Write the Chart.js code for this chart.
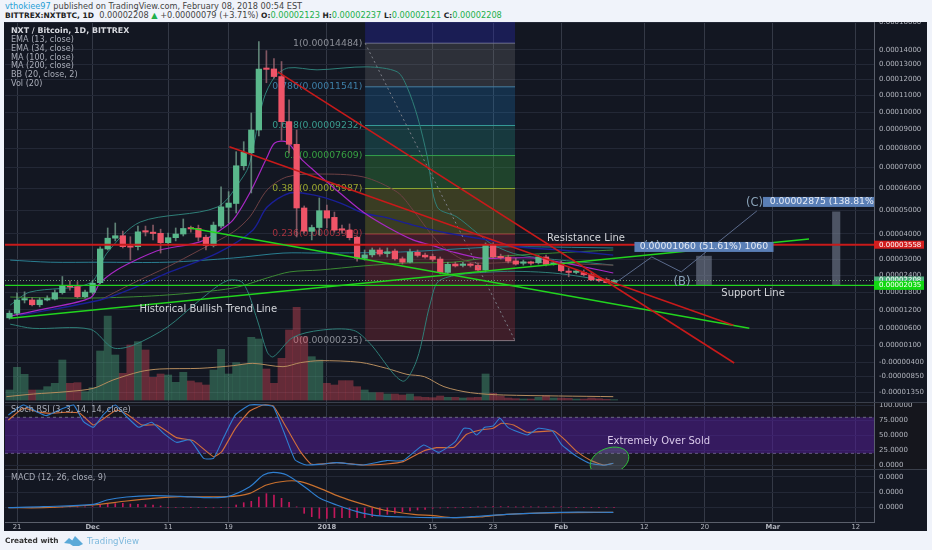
<!DOCTYPE html>
<html lang="en">
<head>
<meta charset="UTF-8">
<title>NXT / Bitcoin, 1D, BITTREX</title>
<script src="https://cdn.jsdelivr.net/npm/chart.js@4"></script>
<style>
    html, body { margin: 0; padding: 0; background: #f0f3fa; }
    body { width: 932px; height: 550px; position: relative; overflow: hidden; font-family: "DejaVu Sans", sans-serif; }
    #frame { position: absolute; left: 4px; top: 22px; width: 923px; height: 509px; background: #131722; }
    canvas { position: absolute; left: 5px; }
    #stochChart { background: #15161d; }
    .rule { position: absolute; left: 5px; width: 922px; height: 1px; background: #3a3f4b; }
    .txt { position: absolute; white-space: nowrap; }
    .top { font-size: 8.2px; line-height: 10px; color: #444; left: 5px; }
    .top b { color: #222; font-weight: 600; font-size: 7.5px; }
    .top i { font-style: normal; color: #21b04b; }
    .leg { font-size: 8.1px; line-height: 9px; left: 11px; color: #a9adb8; }
</style>
</head>
<body>
<div class="txt top" style="top:1px"><span style="color:#2a9fd6">vthokiee97</span> published on TradingView.com, February 08, 2018 00:54 EST</div>
<div class="txt top" style="top:10px"><b>BITTREX:NXTBTC, 1D</b>&nbsp; 0.00002208 <i>▲</i> +0.00000079 (+3.71%) <b>O:</b><i>0.00002123</i> <b>H:</b><i>0.00002237</i> <b>L:</b><i>0.00002121</i> <b>C:</b><i>0.00002208</i></div>
<div id="frame"></div>
<canvas id="priceChart" width="922" height="380" style="top:22px"></canvas>
<canvas id="stochChart" width="922" height="67" style="top:402px"></canvas>
<canvas id="macdChart" width="922" height="62" style="top:469px"></canvas>
<div class="rule" style="top:402px"></div>
<div class="rule" style="top:469px"></div>
<div class="txt leg" style="top:26px;color:#d8dae0;font-weight:600;font-size:7.9px">NXT / Bitcoin, 1D, BITTREX</div>
<div class="txt leg" style="top:35px">EMA (13, close)</div>
<div class="txt leg" style="top:44px">EMA (34, close)</div>
<div class="txt leg" style="top:52.5px">MA (100, close)</div>
<div class="txt leg" style="top:61px">MA (200, close)</div>
<div class="txt leg" style="top:70px">BB (20, close, 2)</div>
<div class="txt leg" style="top:79px">Vol (20)</div>
<div class="txt leg" style="top:405px">Stoch RSI (3, 3, 14, 14, close)</div>
<div class="txt leg" style="top:473px">MACD (12, 26, close, 9)</div>
<div class="txt" style="left:5px;top:536px;font-size:7.4px;line-height:10px;color:#333;font-weight:600">Created with</div>
<svg class="txt" style="left:64px;top:535px" width="20" height="12" viewBox="0 0 20 12"><path d="M0 8 L5 3 L9 6 L7 9 Z M6 9 L11 1 L15 5 L19 9 L15 11 L9 11 Z" fill="#5aa9d8"/></svg>
<div class="txt" style="left:87px;top:536px;font-size:8.6px;line-height:10px;color:#7db9dd">TradingView</div>

<script>
// everything below is read off the picture
// prices are in units of 0.00001 BTC, days are counted from 21 Nov
const dayTicks = [0, 10, 20, 28, 41, 55, 63, 72, 83, 91, 100, 111];
const dayLabels = ['21', 'Dec', '11', '19', '2018', '15', '23', 'Feb', '12', '20', 'Mar', '12'];
const boldDays = ['Dec', '2018', 'Feb', 'Mar'];
const priceTicks = [16, 14, 13, 12, 11, 10, 9, 8, 7, 6, 5, 4, 3, 2.4, 1.8, 1.2, 0.6, 0.1, -0.4, -0.85, -1.35];
const stochTicks = [100, 75, 50, 25, 0];
const macdTicks = [91, 44, 0];

const firstDay = -1;
const opens = [0.94,1.09,1.53,1.53,1.37,1.53,1.56,1.78,2.02,1.99,1.64,1.79,2.13,3.39,3.82,3.92,3.51,3.48,4.08,4.05,4.02,3.64,3.84,3.99,4.22,4.22,3.86,3.52,4.32,5.13,5.30,7.09,7.76,8.98,12.69,12.7,12.2,9.45,8.2,5.1,4.1,4.26,4.98,4.69,4.18,4.15,3.86,3.03,3.16,3.35,3.21,3.31,3.01,2.88,3.26,3.15,3.10,3.0,2.50,2.81,2.76,2.78,2.76,2.59,3.55,3.10,3.07,2.93,2.84,2.87,2.86,3.08,2.80,2.84,2.55,2.50,2.50,2.42,2.23,2.24,2.123];
const closes = [1.09,1.53,1.55,1.37,1.53,1.56,1.78,2.02,1.98,1.64,1.80,2.11,3.39,3.82,3.92,3.48,3.46,4.08,4.07,4.01,3.64,3.84,3.99,4.22,4.20,3.86,3.52,4.36,5.15,5.32,7.09,7.78,8.98,12.69,12.67,12.2,9.45,8.2,5.1,4.11,4.26,4.98,4.66,4.15,4.15,3.84,3.03,3.16,3.35,3.19,3.28,3.01,2.88,3.27,3.14,3.08,2.99,2.50,2.80,2.74,2.78,2.76,2.59,3.55,3.08,3.05,2.92,2.81,2.87,2.84,3.08,2.80,2.84,2.56,2.50,2.53,2.42,2.23,2.20,2.13,2.208];
const highs = [1.17,1.77,1.81,1.60,1.60,1.67,1.87,2.35,2.20,2.17,1.87,2.20,3.47,4.24,4.45,4.11,3.88,4.32,4.32,4.36,4.19,4.03,4.24,4.62,4.32,4.36,3.95,4.49,6.07,5.84,7.81,8.34,9.95,14.59,13.95,13.4,13.2,10.73,8.98,5.19,4.36,5.55,5.23,4.92,4.36,4.41,3.91,3.35,3.43,3.43,3.43,3.39,3.08,3.39,3.35,3.23,3.19,3.08,2.88,2.88,2.88,2.85,2.85,3.63,3.63,3.19,3.15,3.03,2.96,2.92,3.15,3.15,2.92,2.92,2.66,2.59,2.59,2.52,2.30,2.30,2.237];
const lows = [0.90,1.03,1.43,1.33,1.30,1.50,1.53,1.73,1.87,1.60,1.60,1.73,2.09,3.35,3.71,3.43,2.96,3.35,3.91,3.75,3.23,3.55,3.71,3.91,4.07,3.71,3.35,3.47,4.24,4.45,4.88,6.88,5.78,8.65,11.8,12.1,8.43,7.74,3.87,4.03,3.75,3.95,4.24,4.07,4.03,3.75,2.92,2.96,3.08,3.11,3.08,2.96,2.81,2.85,3.08,3.03,2.92,2.45,2.45,2.70,2.70,2.70,2.55,2.52,3.03,3.0,2.85,2.77,2.77,2.77,2.81,2.74,2.77,2.52,2.34,2.45,2.37,2.20,2.16,2.12,2.121];
const volumes = [30,98,77,30,30,40,50,120,50,52,25,37,147,252,135,80,165,175,150,68,78,75,53,83,57,52,45,90,152,78,112,108,188,183,93,50,125,210,278,190,130,120,50,45,58,58,40,30,22,22,18,18,15,18,10,8,7,12,8,8,6,7,8,78,20,12,6,4,3,3,8,13,6,6,5,3,3,6,4,2,1];

const volMaDays = [-1.4,2.2,6.6,10.1,12.7,16.3,18.9,24.2,28.6,31.2,35.2,37.5,40.1,45.4,48.9,51.6,53.9,56.5,60,64.4,78.9];
const volMa = [10,18,25,35,60,85,93,95,103,110,100,112,118,113,95,77,70,40,22,15,10];

const ema13Days = [-0.9,3,9.7,11,13.2,16.3,18.9,24.2,26.9,28.6,30.8,33.1,34.1,35.7,37.5,39.2,41.8,45.8,49,52.4,54.7,57.7,61.3,64.9,68.3,71.9,75.8,78.9];
const ema13 = [1.0,1.2,1.6,2.12,2.59,3.04,3.35,3.67,4.15,4.58,5.78,7.53,8.27,8.32,7.48,6.88,6.06,4.92,4.28,3.75,3.55,3.27,3.04,3.04,3.04,2.88,2.66,2.48];
const ema34Days = [11,15.4,19.9,24.2,28.6,30.8,33.1,35.7,39.7,45.8,50.3,52.4,55.1,56.9,60,66.6,78.9];
const ema34 = [1.53,2.12,2.7,3.35,4.07,4.71,5.92,6.54,6.68,6.54,5.82,5.01,3.87,3.35,2.88,2.88,2.77];
const ma100Days = [0.4,11,15.4,19.9,26.5,31.2,33.1,36.1,39.2,42.8,45.8,49,52.4,56.9,62.2,66.6,71.9,78.9];
const ma100 = [1.03,1.53,1.94,2.48,3.23,4.15,5.14,5.78,5.69,5.32,4.88,4.67,4.36,4.03,3.75,3.47,3.35,3.15];
const ma200Days = [-0.9,4.4,11,19.9,28.6,35.2,40.1,50.7,63.9,78.9];
const ma200 = [2.96,2.88,2.88,2.88,3.04,3.23,3.23,3.27,3.47,3.43];
const bbBasisDays = [-0.9,4.4,11,19.9,28.6,33.1,36.1,40.1,45.8,51.6,57.7,63,70.9,78.9];
const bbBasis = [1.63,1.6,1.6,1.7,1.94,2.3,2.52,2.59,2.74,2.85,2.88,3.08,3.23,3.35];
const bbUpperDays = [-0.9,1.7,9.7,11.9,16.3,26.5,29.9,30.8,32.6,34.1,35.9,39.7,46.3,50.3,51.6,53,54.3,55.6,58.2,60.9,63,66.6,78.9];
const bbUpper = [1.36,1.8,2.12,3.23,4.49,5.14,6.54,7.23,10.73,12.18,12.77,12.64,12.84,12.51,11.54,9.72,7.53,5.14,4.71,4.03,3.55,3.15,2.77];
const bbLowerDays = [-0.9,2.1,9.7,12.7,15.4,19.9,24.2,27.8,29.9,31.8,33.1,33.9,36.5,40.1,44.5,46.7,51,52.9,54.7,56,63,70.9,78.9];
const bbLower = [0.74,0.61,0.58,0.02,0.1,0.65,1.53,2.2,2.12,0.87,-0.1,-0.24,0.33,0.55,0.55,0.15,-1.0,-0.33,1.43,2.23,2.52,2.48,2.16];

// fibonacci retracement
const fibDays = [46.06, 65.9];
const fibLevels = [16.05, 14.484, 11.541, 9.232, 7.609, 5.987, 3.989, 0.235];
const fibText = ['', '1(0.00014484)', '0.786(0.00011541)', '0.618(0.00009232)', '0.5(0.00007609)', '0.382(0.00005987)', '0.236(0.00003989)', '0(0.00000235)'];
const fibLine = ['rgba(0,0,0,0)', '#7c7f88', '#3d7ea6', '#3a9c8f', '#37a042', '#9aa52f', '#a5333f', '#7c7f88'];
const fibFill = ['rgba(44,44,190,.32)', 'rgba(140,140,140,.22)', 'rgba(33,140,220,.22)', 'rgba(38,166,154,.24)', 'rgba(60,170,70,.3)', 'rgba(150,150,40,.3)', 'rgba(190,50,65,.25)', 'rgba(0,0,0,0)'];

// drawn lines: each is two or more [day, price] ends
const edgeDays = [-1.59, 113.4];
const resistanceLevel = 3.558;
const supportLevel = 2.035;
const lastPrice = 2.208;
const redLineA = [[34.5, 12.51], [94.9, -0.42]];
const redLineB = [[28.1, 8.07], [94.8, 0.71]];
const greenLineA = [[22.9, 4.24], [96.9, 0.61]];
const greenLineB = [[-0.9, 0.93], [104.8, 3.79]];
const fibDiagonal = [[46.06, 14.484], [65.9, 0.235]];
const waveLine = [[79, 2.09], [84, 3.08], [87.9, 2.52], [97.9, 4.97]];
const targetDays = [90.9, 108.4];
const targetTops = [3.11, 4.93];

const macdDays = [-1.15,3.5,10.1,11.9,14.5,18,21.6,25.1,27.8,30.8,32.6,33.9,35.7,38.3,40.1,42.3,45,47.6,51.6,55.1,57.7,60.8,64.8,71.9,78.9];
const macdLine = [-1,2,9,22,31,35,33,29,32,62,97,105,97,57,27,7,-13,-25,-29,-31,-31,-27,-21,-15,-15];
const signalDays = [-1.15,3.5,10.1,14.5,18,21.6,27.8,30.8,33,35.7,37.5,40.1,42.7,45.4,48.5,52.5,55.1,57.7,61.3,64.8,71.9,78.9];
const signalLine = [-1,-1,7,19,27,32,32,42,67,79,77,57,32,12,-8,-21,-25,-31,-29,-21,-16,-15];
const macdHist = [0,0,0,0,0,0,0,1,3,1,1,2,7,9,11,12,10,9,8,7,4,0,0,0,0,0,0,-1,0,0,7,14,18,31,41,37,27,15,1,-18,-28,-33,-33,-31,-31,-31,-31,-31,-28,-23,-21,-18,-13,-11,-8,-6,-3,-2,-1,-1,0,0,1,1,2,2,2,1,1,1,1,1,1,1,0,0,0,0,0,0,0];

const stochKDays = [-1.15,0.84,2.6,3.9,6.1,7.5,8.8,10.1,11.4,13,14.5,16.1,17.8,19.4,21.1,22.9,24.7,26,27.3,28.9,30.8,32.6,33.9,35.3,36.8,38.3,40.1,42.3,45.8,48.9,51.1,53.8,55.8,58,59.1,60,60.8,61.9,63,63.9,65,67.5,69,70.8,72.1,74.1,75.8,77.6,78.9];
const stochK = [83.9,100.5,89.4,82.8,95,100.5,72.8,63.3,83.9,100.5,81.1,63.3,71.6,53.3,38.3,42.2,11.6,11.6,45,83.9,100.5,100.5,97.8,56,8.9,0.5,1.6,4.4,0.5,7.8,7.8,33.9,21.6,39.4,61.6,60.5,50.5,63.3,65.5,78.3,62.8,50.5,61.6,57.8,33.9,14.4,3.3,0,3.3];
const stochDDays = [-1.15,0.84,2.6,4.4,6.6,8.3,10.1,11.4,13.2,14.7,16.5,18.5,21.1,23.3,26,27.1,28.9,30.8,32.6,33.9,35.7,37.5,39,42.3,45.8,48.9,51.1,53.8,55.5,57.8,59.5,61.3,63,64.1,65.7,67.5,71,72.3,74.1,75.8,77.6,78.9];
const stochD = [75.5,95,89.4,86.6,88.3,86.6,67.2,77.2,92.2,83.9,67.2,67.2,46.1,41.1,14.4,22.7,61.6,90.5,100.5,98.9,61.6,22.7,1.6,4.4,0.5,2.2,6.1,23.9,29.4,30,51.6,58.9,61.6,70,67.2,55,57.2,45,22.7,8.9,0.5,3.3];
const stochBand = [80, 20];

const FONT = '"DejaVu Sans", sans-serif';
const LABEL = '#b2b5be';
const GRID_H = '#232836';
const GRID_V = '#343946';
const UP = '#5ab88c';
const DOWN = '#ef5468';

// the price axis is a shifted log, flatter under -0.4
const squash = v => v >= -0.4 ? Math.log(v + 10) : 2.262 + (v + 0.4) * 0.0915;
const unsquash = s => s >= 2.262 ? Math.exp(s) - 10 : (s - 2.262) / 0.0915 - 0.4;
class ShiftedLogScale extends Chart.LinearScale {
    getPixelForValue(v) {
        const a = squash(this.min), b = squash(this.max);
        return this.getPixelForDecimal((squash(v) - a) / (b - a));
    }
    getValueForPixel(p) {
        const a = squash(this.min), b = squash(this.max);
        return unsquash(a + this.getDecimalForPixel(p) * (b - a));
    }
}
ShiftedLogScale.id = 'shiftedLog';
ShiftedLogScale.defaults = Chart.LinearScale.defaults;
Chart.register(ShiftedLogScale);

const pts = (days, vals) => days.map((d, i) => ({ x: d, y: vals[i] }));
const ends = list => list.map(p => ({ x: p[0], y: p[1] }));
const line = (data, color, width, extra) => Object.assign({
    type: 'line', data, borderColor: color, borderWidth: width, pointRadius: 0, tension: 0.3, fill: false
}, extra);
const candleDay = i => firstDay + i;
const isUp = i => closes[i] >= opens[i];
const noPadding = s => { s.paddingTop = s.paddingBottom = s.paddingLeft = s.paddingRight = 0; };

function xAxis(showLabels) {
    return {
        type: 'linear', min: edgeDays[0], max: edgeDays[1], offset: false,
        afterBuildTicks: s => { s.ticks = dayTicks.map(v => ({ value: v })); },
        afterFit: s => { s.height = showLabels ? 9 : 0; noPadding(s); },
        border: { display: showLabels, color: '#5a5f6b' },
        grid: { color: GRID_V, drawTicks: false, offset: false },
        ticks: {
            display: showLabels, autoSkip: false, maxRotation: 0, padding: 1, color: LABEL,
            font: c => ({ family: FONT, size: 6.8, weight: c.tick && boldDays.includes(dayLabels[dayTicks.indexOf(c.tick.value)]) ? 'bold' : 'normal' }),
            callback: v => dayLabels[dayTicks.indexOf(v)]
        }
    };
}
function yAxis(type, min, max, list, format) {
    return {
        type, position: 'right', min, max,
        afterBuildTicks: s => { s.ticks = list.map(v => ({ value: v })); },
        afterFit: s => { s.width = 53; noPadding(s); },
        border: { color: '#5a5f6b' },
        grid: { color: GRID_H, drawTicks: false },
        ticks: { autoSkip: false, padding: 5, color: LABEL, font: { family: FONT, size: 7 }, callback: format }
    };
}
const baseOptions = scales => ({
    responsive: false, animation: false, events: [],
    layout: { padding: 0, autoPadding: false },
    plugins: { legend: { display: false }, tooltip: { enabled: false } },
    scales
});

// text on the price pane
const fibNotes = {
    id: 'fibNotes',
    beforeDatasetsDraw(chart) {
        const { ctx, scales: { x, y } } = chart;
        ctx.save();
        ctx.font = '9.3px ' + FONT;
        ctx.textAlign = 'right';
        ctx.textBaseline = 'middle';
        fibText.forEach((t, i) => {
            if (!t) return;
            ctx.fillStyle = i === 1 || i === 7 ? '#8b8e97' : fibLine[i];
            ctx.fillText(t, x.getPixelForValue(45.7), y.getPixelForValue(fibLevels[i]));
        });
        ctx.restore();
    }
};
const priceNotes = {
    id: 'priceNotes',
    afterDraw(chart) {
        const { ctx, chartArea, scales: { x, y } } = chart;
        const write = (t, d, v, color, size, align) => {
            ctx.font = size + 'px ' + FONT;
            ctx.fillStyle = color;
            ctx.textAlign = align || 'center';
            ctx.textBaseline = 'middle';
            ctx.fillText(t, x.getPixelForValue(d), y.getPixelForValue(v));
        };
        const box = (d0, d1, v, h, color) => {
            const a = x.getPixelForValue(d0), b = x.getPixelForValue(d1);
            ctx.fillStyle = color;
            ctx.fillRect(a, y.getPixelForValue(v) - h / 2, b - a, h);
        };
        ctx.save();
        write('Historical Bullish Trend Line', 25.3, 1.2, '#d3d5da', 10);
        write('Resistance Line', 75.3, 3.83, '#d3d5da', 10);
        write('Support Line', 97.4, 1.74, '#d3d5da', 10);
        write('(A)', 84, 3.47, '#8aa3b8', 11.5);
        write('(B)', 88, 2.16, '#8aa3b8', 11.5);
        write('(C)', 97.6, 5.32, '#8aa3b8', 11.5);
        box(81.7, 100.1, 3.47, 10, '#5a7fb6');
        write('0.00001060 (51.61%) 1060', 90.9, 3.47, '#e6ebf5', 9.3);
        ctx.beginPath();
        ctx.rect(chartArea.left, chartArea.top, chartArea.width, chartArea.height);
        ctx.clip();
        box(98.7, 113.4, 5.37, 10, '#5a7fb6');
        write('0.00002875 (138.81%)', 99.6, 5.37, '#e6ebf5', 9.3, 'left');
        ctx.restore();

        // last value tags on the axis
        ctx.save();
        [[resistanceLevel, '#d21e1e', 8], [lastPrice, '#4fae7e', 8], [supportLevel, '#12d812', 9]].forEach(([v, c, h]) => {
            const py = y.getPixelForValue(v);
            ctx.fillStyle = c;
            ctx.fillRect(chartArea.right, py - h / 2, 50, h);
            ctx.fillStyle = '#fff';
            ctx.font = '7px ' + FONT;
            ctx.textAlign = 'left';
            ctx.textBaseline = 'middle';
            ctx.fillText((v / 1e5).toFixed(8), chartArea.right + 5, py);
        });
        ctx.restore();
    }
};
const stochNotes = {
    id: 'stochNotes',
    afterDraw(chart) {
        const { ctx, scales: { x, y } } = chart;
        ctx.save();
        ctx.font = '10px ' + FONT;
        ctx.fillStyle = '#d9c9ea';
        ctx.textAlign = 'center';
        ctx.textBaseline = 'middle';
        ctx.fillText('Extremely Over Sold', x.getPixelForValue(84.9), y.getPixelForValue(40.5));
        ctx.beginPath();
        ctx.ellipse(x.getPixelForValue(78.4), y.getPixelForValue(7), 20, 13, -0.35, 0, Math.PI * 2);
        ctx.fillStyle = 'rgba(120,135,145,.3)';
        ctx.fill();
        ctx.strokeStyle = '#2fbf3a';
        ctx.lineWidth = 1;
        ctx.stroke();
        ctx.restore();
    }
};

const fibSets = fibLevels.map((lv, i) => ({
    type: 'line', yAxisID: 'y', order: 20, pointRadius: 0, tension: 0,
    data: fibDays.map(d => ({ x: d, y: lv })),
    borderColor: fibLine[i], borderWidth: i === 0 ? 0 : 1,
    backgroundColor: fibFill[i], fill: i < fibLevels.length - 1 ? '+1' : false
}));

new Chart(document.getElementById('priceChart'), {
    data: {
        datasets: [
            ...fibSets,
            { type: 'bar', yAxisID: 'y2', order: 15, grouped: false, barThickness: 7.2,
              data: volumes.map((v, i) => ({ x: candleDay(i), y: v })),
              backgroundColor: volumes.map((v, i) => isUp(i) ? 'rgba(83,185,135,.38)' : 'rgba(235,77,92,.38)') },
            line(pts(volMaDays, volMa), '#b58c5e', 1, { yAxisID: 'y2', order: 14 }),
            line(pts(ma200Days, ma200), '#2a7f92', 1, { order: 12 }),
            line(pts(bbBasisDays, bbBasis), '#3c8a34', 1, { order: 12 }),
            line(pts(bbUpperDays, bbUpper), '#2f7f78', 1, { order: 12 }),
            line(pts(bbLowerDays, bbLower), '#2f7f78', 1, { order: 12 }),
            line(pts(ma100Days, ma100), '#1a1f96', 1.4, { order: 11 }),
            line(pts(ema34Days, ema34), '#6e4144', 1, { order: 11 }),
            line(pts(ema13Days, ema13), '#a828c4', 1.2, { order: 10 }),
            { type: 'bar', order: 6, grouped: false, barThickness: 1,
              data: opens.map((o, i) => ({ x: candleDay(i), y: [lows[i], highs[i]] })),
              backgroundColor: opens.map((o, i) => isUp(i) ? 'rgba(120,165,145,.75)' : 'rgba(170,110,120,.75)') },
            { type: 'bar', order: 5, grouped: false, barThickness: 5.6, minBarLength: 1.4,
              data: opens.map((o, i) => ({ x: candleDay(i), y: [o, closes[i]] })),
              backgroundColor: opens.map((o, i) => isUp(i) ? UP : DOWN) },
            { type: 'bar', order: 4, grouped: false, barThickness: 15,
              data: [{ x: targetDays[0], y: [supportLevel, targetTops[0]] }],
              backgroundColor: 'rgba(125,135,155,.55)' },
            { type: 'bar', order: 4, grouped: false, barThickness: 7.5,
              data: [{ x: targetDays[1], y: [supportLevel, targetTops[1]] }],
              backgroundColor: 'rgba(125,135,155,.55)' },
            line(ends(fibDiagonal), '#7c7f88', 1, { order: 3, borderDash: [2, 3], tension: 0 }),
            line(pts(edgeDays, [lastPrice, lastPrice]), '#6f9a78', 1, { order: 3, borderDash: [1, 2], tension: 0 }),
            line(ends(waveLine), '#5b6b8c', 1, { order: 3, tension: 0 }),
            line(pts(edgeDays, [resistanceLevel, resistanceLevel]), '#c81a1a', 2, { order: 2, tension: 0 }),
            line(pts(edgeDays, [supportLevel, supportLevel]), '#22d41e', 1.4, { order: 2, tension: 0 }),
            line(ends(redLineA), '#c81a1a', 1.6, { order: 1, tension: 0 }),
            line(ends(redLineB), '#c81a1a', 1.6, { order: 1, tension: 0 }),
            line(ends(greenLineA), '#22d41e', 1.6, { order: 1, tension: 0 }),
            line(ends(greenLineB), '#22d41e', 1.6, { order: 1, tension: 0 })
        ]
    },
    options: baseOptions({
        x: xAxis(false),
        y: yAxis('shiftedLog', -1.67, 16.05, priceTicks, v => (v / 1e5).toFixed(8)),
        y2: { type: 'linear', display: false, min: -6, max: 1134 }
    }),
    plugins: [fibNotes, priceNotes]
});

new Chart(document.getElementById('stochChart'), {
    data: {
        datasets: [
            line(pts(edgeDays, [stochBand[0], stochBand[0]]), '#6d6a85', 1, { order: 5, tension: 0, borderDash: [3, 3], backgroundColor: 'rgba(80,30,150,.55)', fill: '+1' }),
            line(pts(edgeDays, [stochBand[1], stochBand[1]]), '#6d6a85', 1, { order: 5, tension: 0, borderDash: [3, 3] }),
            line(pts(stochDDays, stochD), '#d2703a', 1.1, { order: 2, tension: 0.15 }),
            line(pts(stochKDays, stochK), '#2f7fd0', 1.1, { order: 1, tension: 0.15 })
        ]
    },
    options: baseOptions({
        x: xAxis(false),
        y: yAxis('linear', -6.2, 105.5, stochTicks, v => v.toFixed(4))
    }),
    plugins: [stochNotes]
});

new Chart(document.getElementById('macdChart'), {
    data: {
        datasets: [
            { type: 'bar', order: 3, grouped: false, barThickness: 1,
              data: macdHist.map((v, i) => ({ x: candleDay(i), y: v })),
              backgroundColor: '#c2185b' },
            line(pts(signalDays, signalLine), '#c8702e', 1.2, { order: 2 }),
            line(pts(macdDays, macdLine), '#2f7fd0', 1.2, { order: 1 })
        ]
    },
    options: baseOptions({
        x: xAxis(true),
        y: yAxis('linear', -44, 115, macdTicks, () => '0.0000')
    })
});
</script>
</body>
</html>
